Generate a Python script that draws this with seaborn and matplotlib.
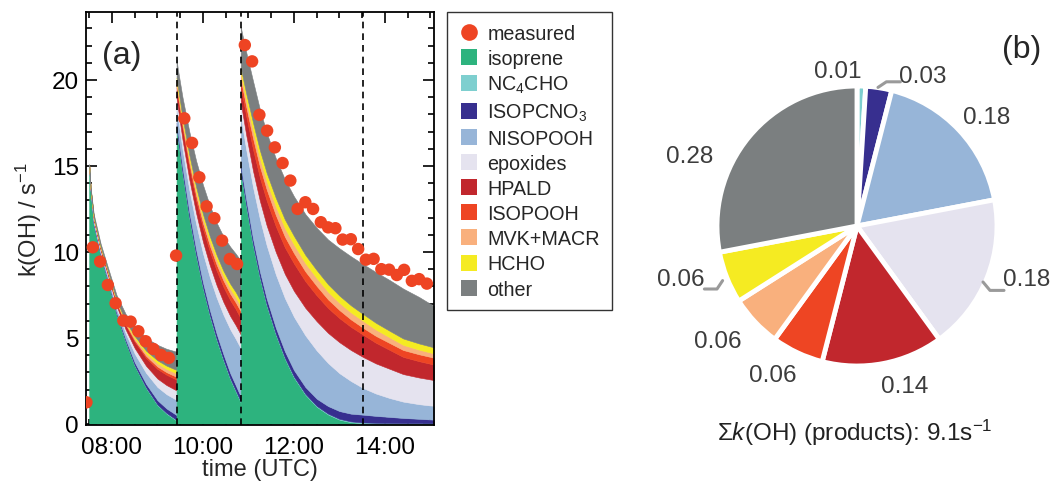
import numpy as np
import pandas as pd
import matplotlib
matplotlib.use("Agg")
import matplotlib.pyplot as plt
import seaborn as sns
from matplotlib.lines import Line2D
from matplotlib.ticker import MultipleLocator

# ---------------- data ----------------
species = ["isoprene", "NC4CHO", "ISOPCNO3", "NISOPOOH", "epoxides",
           "HPALD", "ISOPOOH", "MVK+MACR", "HCHO", "other"]
legend_labels = ["isoprene", "NC$_4$CHO", "ISOPCNO$_3$", "NISOPOOH", "epoxides",
                 "HPALD", "ISOPOOH", "MVK+MACR", "HCHO", "other"]
colors = ["#2DB37E", "#7ECFCF", "#372F8F", "#97B5D8", "#E5E3EF",
          "#C1272D", "#EE4523", "#F9B07D", "#F5EB22", "#7B7F80"]

segment = [1] * 12 + [2] * 12 + [3] * 20
time_h = [7.50, 7.53, 7.60, 7.75, 7.90, 8.10, 8.30, 8.50, 8.75, 9.00, 9.20, 9.42,
          9.42, 9.45, 9.55, 9.70, 9.85, 10.00, 10.15, 10.30, 10.45, 10.60, 10.72, 10.83,
          10.83, 10.86, 10.95, 11.10, 11.25, 11.40, 11.60, 11.80, 12.00, 12.25, 12.50,
          12.75, 13.00, 13.25, 13.52, 13.80, 14.10, 14.40, 14.75, 15.08]
isoprene = [15.0, 13.6, 11.6, 9.8, 8.4, 6.4, 4.8, 3.4, 2.1, 1.1, 0.6, 0.2,
            17.2, 16.6, 14.6, 12.0, 9.8, 7.9, 6.3, 4.9, 3.7, 2.6, 1.9, 1.25,
            14.85, 14.2, 12.7, 10.4, 8.5, 6.9, 5.2, 3.8, 2.7, 1.7, 1.0, 0.55, 0.25, 0.1,
            0.04, 0.02, 0.01, 0.0, 0.0, 0.0]
nc4cho = [0.0, 0.0, 0.01, 0.01, 0.01, 0.01, 0.02, 0.02, 0.03, 0.03, 0.04, 0.04,
          0.04, 0.04, 0.04, 0.04, 0.04, 0.04, 0.05, 0.05, 0.05, 0.05, 0.05, 0.05,
          0.05, 0.05, 0.05, 0.05, 0.05, 0.05, 0.05, 0.05, 0.05, 0.05, 0.05, 0.05, 0.05,
          0.05, 0.05, 0.05, 0.05, 0.05, 0.05, 0.05]
isopcno3 = [0.01, 0.01, 0.04, 0.05, 0.06, 0.08, 0.11, 0.16, 0.2, 0.25, 0.26, 0.28,
            0.28, 0.28, 0.28, 0.28, 0.29, 0.29, 0.29, 0.3, 0.3, 0.3, 0.3, 0.3,
            0.3, 0.3, 0.31, 0.32, 0.33, 0.34, 0.35, 0.37, 0.38, 0.4, 0.42, 0.44, 0.45,
            0.45, 0.45, 0.4, 0.35, 0.3, 0.25, 0.2]
nisopooh = [0.02, 0.04, 0.13, 0.15, 0.18, 0.24, 0.35, 0.51, 0.64, 0.77, 0.83, 0.88,
            0.88, 0.9, 1.05, 1.3, 1.5, 1.7, 1.9, 2.1, 2.3, 2.55, 2.7, 2.8,
            2.8, 2.85, 2.9, 3.0, 3.05, 3.1, 3.1, 3.1, 3.1, 3.0, 2.8, 2.5, 2.2, 1.9,
            1.55, 1.3, 1.1, 0.95, 0.85, 0.8]
epoxides = [0.01, 0.03, 0.08, 0.1, 0.11, 0.15, 0.22, 0.32, 0.41, 0.49, 0.53, 0.55,
            0.55, 0.55, 0.57, 0.6, 0.63, 0.66, 0.69, 0.72, 0.74, 0.77, 0.79, 0.8,
            0.8, 0.82, 0.85, 0.95, 1.05, 1.15, 1.3, 1.4, 1.5, 1.6, 1.7, 1.75, 1.8, 1.8,
            1.8, 1.75, 1.7, 1.6, 1.55, 1.5]
hpald = [0.02, 0.03, 0.1, 0.11, 0.13, 0.18, 0.26, 0.37, 0.46, 0.56, 0.6, 0.63,
         0.63, 0.63, 0.66, 0.7, 0.74, 0.78, 0.82, 0.85, 0.88, 0.92, 0.94, 0.95,
         0.95, 1.0, 1.1, 1.25, 1.35, 1.45, 1.5, 1.55, 1.6, 1.55, 1.5, 1.45, 1.4, 1.35,
         1.3, 1.2, 1.1, 1.0, 0.95, 0.9]
isopooh = [0.0, 0.01, 0.02, 0.03, 0.03, 0.04, 0.06, 0.09, 0.12, 0.14, 0.15, 0.16,
           0.16, 0.17, 0.2, 0.25, 0.28, 0.31, 0.33, 0.35, 0.37, 0.38, 0.39, 0.4,
           0.4, 0.45, 0.55, 0.65, 0.65, 0.65, 0.65, 0.62, 0.6, 0.57, 0.55, 0.5, 0.47,
           0.43, 0.4, 0.4, 0.4, 0.4, 0.4, 0.4]
mvk_macr = [0.01, 0.01, 0.03, 0.04, 0.04, 0.06, 0.08, 0.12, 0.15, 0.18, 0.19, 0.2,
            0.2, 0.2, 0.22, 0.24, 0.25, 0.26, 0.27, 0.28, 0.28, 0.29, 0.3, 0.3,
            0.3, 0.33, 0.38, 0.45, 0.47, 0.48, 0.5, 0.5, 0.5, 0.48, 0.46, 0.44, 0.42,
            0.41, 0.4, 0.37, 0.33, 0.3, 0.27, 0.25]
hcho = [0.01, 0.01, 0.03, 0.04, 0.04, 0.06, 0.08, 0.12, 0.15, 0.18, 0.19, 0.2,
        0.2, 0.2, 0.22, 0.24, 0.25, 0.26, 0.27, 0.28, 0.28, 0.29, 0.3, 0.3,
        0.3, 0.33, 0.38, 0.45, 0.47, 0.48, 0.5, 0.5, 0.5, 0.48, 0.46, 0.44, 0.42,
        0.41, 0.4, 0.39, 0.38, 0.37, 0.36, 0.35]
other = [0.02, 0.06, 0.16, 0.17, 0.2, 0.28, 0.42, 0.59, 0.74, 0.9, 0.98, 1.06,
         1.06, 1.03, 1.16, 1.35, 1.52, 1.7, 1.78, 1.87, 2.0, 2.15, 2.23, 2.35,
         2.35, 2.37, 2.4, 2.42, 2.38, 2.33, 2.3, 2.33, 2.3, 2.37, 2.46, 2.6, 2.75,
         2.85, 2.9, 2.95, 2.95, 2.9, 2.7, 2.4]

meas_time = [7.44, 7.58, 7.74, 7.91, 8.08, 8.25, 8.41, 8.58, 8.74, 8.91, 9.08, 9.25, 9.41,
             9.59, 9.76, 9.92, 10.08, 10.25, 10.42, 10.59, 10.75,
             10.92, 11.08, 11.24, 11.41, 11.58, 11.75, 11.92, 12.08, 12.25, 12.42, 12.59,
             12.75, 12.91, 13.07, 13.25, 13.41, 13.58, 13.75, 13.92, 14.09, 14.26, 14.42,
             14.59, 14.75, 14.92]
meas_koh = [1.26, 10.27, 9.44, 8.08, 7.02, 6.01, 5.95, 5.39, 4.81, 4.36, 4.01, 3.84, 9.79,
            17.77, 16.34, 14.34, 12.65, 11.96, 10.66, 9.59, 9.30,
            22.03, 21.08, 17.97, 17.05, 16.08, 15.17, 14.15, 12.5, 12.89, 12.5, 11.73,
            11.43, 11.38, 10.72, 10.74, 10.17, 9.55, 9.6, 9.0, 8.97, 8.66, 8.96,
            8.32, 8.42, 8.16]
event_times = [9.42, 10.83, 13.52]

xtick_hours = [8, 10, 12, 14]
xtick_labels = ["08:00", "10:00", "12:00", "14:00"]

pie_species = ["NC4CHO", "ISOPCNO3", "NISOPOOH", "epoxides", "HPALD",
               "ISOPOOH", "MVK+MACR", "HCHO", "other"]
pie_fractions = [0.01, 0.03, 0.18, 0.18, 0.14, 0.06, 0.06, 0.06, 0.28]
pie_total = 9.1

# ---------------- style ----------------
sns.set_theme(style="ticks")
plt.rcParams["font.family"] = ["Liberation Sans", "DejaVu Sans"]
plt.rcParams["mathtext.fontset"] = "custom"
plt.rcParams["mathtext.rm"] = "Liberation Sans"
plt.rcParams["mathtext.it"] = "Liberation Sans:italic"
plt.rcParams["mathtext.bf"] = "Liberation Sans:bold"

W, H = 1055, 485
fig = plt.figure(figsize=(W / 100, H / 100), dpi=100)

# ---------------- panel (a) ----------------
ax = fig.add_axes([86 / W, 1 - 426 / H, 348 / W, 413 / H])
df = pd.DataFrame({"segment": segment, "time": time_h, "isoprene": isoprene,
                   "NC4CHO": nc4cho, "ISOPCNO3": isopcno3, "NISOPOOH": nisopooh,
                   "epoxides": epoxides, "HPALD": hpald, "ISOPOOH": isopooh,
                   "MVK+MACR": mvk_macr, "HCHO": hcho, "other": other})
for seg, g in df.groupby("segment"):
    polys = ax.stackplot(g["time"], *[g[s] for s in species], colors=colors,
                         linewidth=0, zorder=1)
    for p in polys:
        p.set_edgecolor(p.get_facecolor())
        p.set_linewidth(0.4)

for t in event_times:
    ax.axvline(t, color="black", ls=(0, (4, 3)), lw=1.2, zorder=3)

sns.scatterplot(x=meas_time, y=meas_koh, ax=ax, color="#EE4423", s=80,
                edgecolor="none", linewidth=0, zorder=4, legend=False)

ax.set_xlim(7.43, 15.077)
ax.set_ylim(-0.06, 23.95)
ax.set_xticks(xtick_hours)
ax.set_xticklabels(xtick_labels)
ax.xaxis.set_minor_locator(MultipleLocator(0.5))
ax.yaxis.set_major_locator(MultipleLocator(5))
ax.yaxis.set_minor_locator(MultipleLocator(1))
ax.tick_params(which="both", direction="in", top=True, right=True, width=1.2,
               colors="black", labelsize=17.5)
ax.tick_params(axis="x", pad=8)
ax.tick_params(axis="y", pad=5)
ax.tick_params(which="major", length=8)
ax.tick_params(which="minor", length=4)
for sp in ax.spines.values():
    sp.set_linewidth(1.3)
    sp.set_color("black")
ax.set_xlabel("time (UTC)", fontsize=17, labelpad=0)
ax.set_ylabel("k(OH) / s$^{-1}$", fontsize=17, labelpad=6)
ax.text(0.103, 0.897, "(a)", transform=ax.transAxes, fontsize=23,
        ha="center", va="center")

# legend
handles = [Line2D([], [], ls="none", marker="o", markersize=12,
                  markerfacecolor="#EE4423", markeredgewidth=0)]
for c in colors:
    handles.append(Line2D([], [], ls="none", marker="s", markersize=12,
                          markerfacecolor=c, markeredgewidth=0))
leg = fig.legend(handles, ["measured"] + legend_labels, loc="upper left",
                 bbox_to_anchor=(447 / W, 1 - 13 / H), frameon=True, fancybox=False,
                 edgecolor="black", fontsize=14.2, handlelength=1.0,
                 handletextpad=0.45, labelspacing=0.31, borderpad=0.6,
                 borderaxespad=0)
leg.get_frame().set_linewidth(1.0)

# ---------------- panel (b) ----------------
cx, cy, R = 857, 227, 140
ax2 = fig.add_axes([640 / W, 0, 415 / W, 1])
pie_colors = colors[1:]
ax2.pie(pie_fractions, colors=pie_colors, startangle=90, counterclock=False,
        radius=1, wedgeprops=dict(edgecolor="white", linewidth=3.5))
ax2.set_aspect("auto")
ax2.set_xlim((640 - cx) / R, (W - cx) / R)
ax2.set_ylim((cy - H) / R, cy / R)
ax2.axis("off")

label_pos = [(-0.136, 1.107), (0.471, 1.071), (0.929, 0.779), (1.214, -0.379),
             (0.343, -1.143), (-0.600, -1.064), (-0.993, -0.821), (-1.257, -0.379),
             (-1.193, 0.500)]
txt_col = "#3c3c3c"
for (lx, ly), frac in zip(label_pos, pie_fractions):
    ax2.text(lx, ly, f"{frac:.2f}", fontsize=17.5, color=txt_col,
             ha="center", va="center")
lead = "#9a9a9a"
ax2.plot([0.15, 0.21, 0.31], [0.99, 1.03, 1.03], color=lead, lw=2.2)
ax2.plot([0.90, 0.95, 1.05], [-0.40, -0.46, -0.46], color=lead, lw=2.2)
ax2.plot([-0.96, -1.00, -1.09], [-0.39, -0.45, -0.45], color=lead, lw=2.2)
ax2.text(1.179, 1.264, "(b)", fontsize=23, ha="center", va="center")
ax2.text(-0.014, -1.471, r"$\Sigma$$\it{k}$(OH) (products): " + f"{pie_total}" + r"s$^{-1}$",
         fontsize=17.5, ha="center", va="center", color="#222222")

fig.savefig("out.png", dpi=100)
